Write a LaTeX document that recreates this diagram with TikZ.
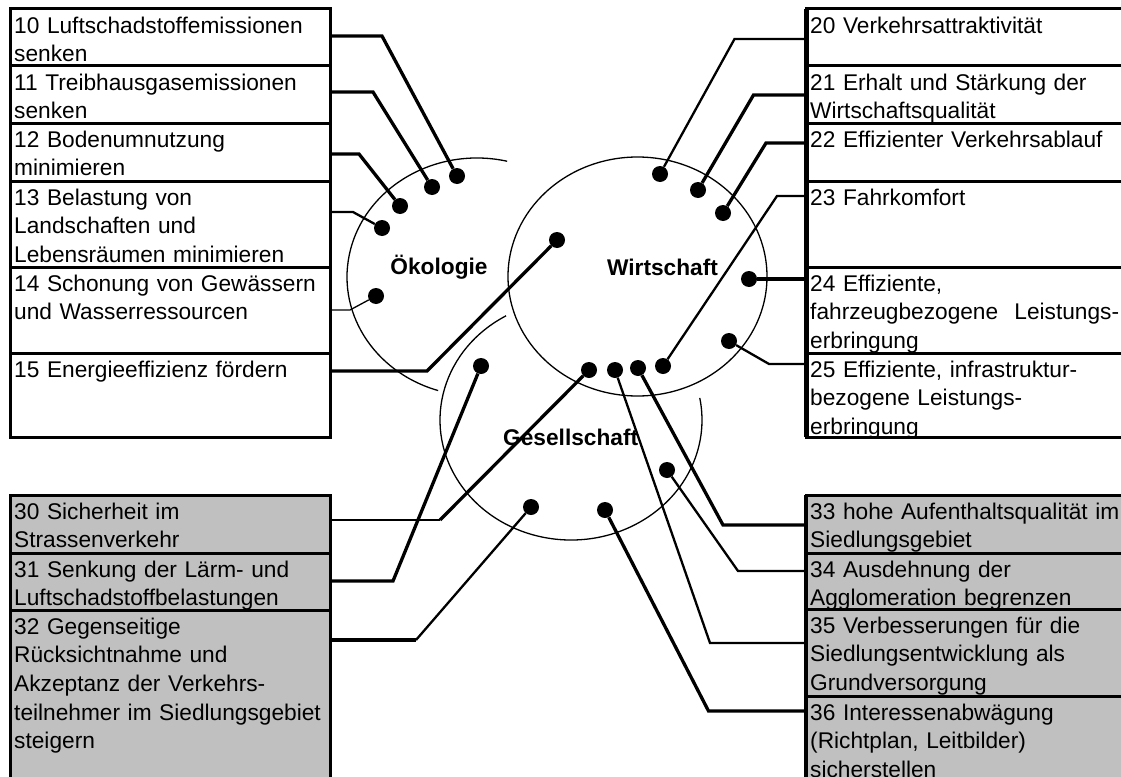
\documentclass[tikz,border=0pt]{standalone}
\usepackage{fontspec}
\setmainfont{Liberation Sans}
\usepackage{tikz}
\usetikzlibrary{positioning}
\definecolor{zielgrau}{HTML}{C0C0C0}

\begin{document}
\begin{tikzpicture}[x=1pt,y=-1pt,
zeile/.style={rectangle,inner sep=0pt,outer sep=0pt,anchor=north west,fill=white},
grauzeile/.style={zeile,fill=zielgrau},
links/.style={minimum width=320pt},
rechts/.style={minimum width=330pt},
ztext/.style={inner sep=0pt,text width=330pt,align=left,font=\fontsize{22.7}{28.6}\selectfont},
rahmen/.style={line width=3pt},
ring/.style={line width=1.3pt},
punkt/.style={circle,fill,inner sep=0pt,minimum size=16pt},
dick/.style={line width=3.3pt},
mittel/.style={line width=2.3pt},
duenn/.style={line width=1.3pt},
sektor/.style={font=\fontsize{22.7}{28}\selectfont\bfseries}]
\useasboundingbox (0,0) rectangle (1121,776);

\node[zeile,links,minimum height=57pt] (z10) at (10,9) {};
\node[ztext,below right=4pt and 4pt of z10.north west] {\strut 10 Luftschadstoffemissionen\\senken};
\node[zeile,links,minimum height=57pt] (z11) at (z10.south west) {};
\node[ztext,below right=4pt and 4pt of z11.north west] {\strut 11 Treibhausgasemissionen\\senken};
\node[zeile,links,minimum height=58pt] (z12) at (z11.south west) {};
\node[ztext,below right=4pt and 4pt of z12.north west] {\strut 12 Bodenumnutzung\\minimieren};
\node[zeile,links,minimum height=86pt] (z13) at (z12.south west) {};
\node[ztext,below right=4pt and 4pt of z13.north west] {\strut 13 Belastung von\\Landschaften und\\Lebensräumen minimieren};
\node[zeile,links,minimum height=86pt] (z14) at (z13.south west) {};
\node[ztext,below right=4pt and 4pt of z14.north west] {\strut 14 Schonung von Gewässern\\und Wasserressourcen};
\node[zeile,links,minimum height=84pt] (z15) at (z14.south west) {};
\node[ztext,below right=4pt and 4pt of z15.north west] {\strut 15 Energieeffizienz fördern};

\node[zeile,rechts,minimum height=57pt] (z20) at (806,9) {};
\node[ztext,below right=4pt and 4pt of z20.north west] {\strut 20 Verkehrsattraktivität};
\node[zeile,rechts,minimum height=57pt] (z21) at (z20.south west) {};
\node[ztext,below right=4pt and 4pt of z21.north west] {\strut 21 Erhalt und Stärkung der\\Wirtschaftsqualität};
\node[zeile,rechts,minimum height=58pt] (z22) at (z21.south west) {};
\node[ztext,below right=4pt and 4pt of z22.north west] {\strut 22 Effizienter Verkehrsablauf};
\node[zeile,rechts,minimum height=86pt] (z23) at (z22.south west) {};
\node[ztext,below right=4pt and 4pt of z23.north west] {\strut 23 Fahrkomfort};
\node[zeile,rechts,minimum height=86pt] (z24) at (z23.south west) {};
\node[ztext,below right=4pt and 4pt of z24.north west] {\strut 24 Effiziente,\\\leavevmode\hbox to 309pt{fahrzeugbezogene\hfill Leistungs-}\\erbringung};
\node[zeile,rechts,minimum height=84pt] (z25) at (z24.south west) {};
\node[ztext,below right=4pt and 4pt of z25.north west] {\strut 25 Effiziente, infrastruktur-\\bezogene Leistungs-\\erbringung};

\node[grauzeile,links,minimum height=58pt] (z30) at (10,495) {};
\node[ztext,below right=4pt and 4pt of z30.north west] {\strut 30 Sicherheit im\\Strassenverkehr};
\node[grauzeile,links,minimum height=57pt] (z31) at (z30.south west) {};
\node[ztext,below right=4pt and 4pt of z31.north west] {\strut 31 Senkung der Lärm- und\\Luftschadstoffbelastungen};
\node[grauzeile,links,minimum height=190pt] (z32) at (z31.south west) {};
\node[ztext,below right=4pt and 4pt of z32.north west] {\strut 32 Gegenseitige\\Rücksichtnahme und\\Akzeptanz der Verkehrs-\\teilnehmer im Siedlungsgebiet\\steigern};

\node[grauzeile,rechts,minimum height=58pt] (z33) at (806,495) {};
\node[ztext,below right=4pt and 4pt of z33.north west] {\strut 33 hohe Aufenthaltsqualität im\\Siedlungsgebiet};
\node[grauzeile,rechts,minimum height=56pt] (z34) at (z33.south west) {};
\node[ztext,below right=4pt and 4pt of z34.north west] {\strut 34 Ausdehnung der\\Agglomeration begrenzen};
\node[grauzeile,rechts,minimum height=87pt] (z35) at (z34.south west) {};
\node[ztext,below right=4pt and 4pt of z35.north west] {\strut 35 Verbesserungen für die\\Siedlungsentwicklung als\\Grundversorgung};
\node[grauzeile,rechts,minimum height=104pt] (z36) at (z35.south west) {};
\node[ztext,below right=4pt and 4pt of z36.north west] {\strut 36 Interessenabwägung\\(Richtplan, Leitbilder)\\sicherstellen};

\foreach \z in {z10,z11,z12,z13,z14,z15,z20,z21,z22,z23,z24,z25,z30,z31,z32,z33,z34,z35,z36}
  \draw[rahmen] (\z.north west) rectangle (\z.south east);
\draw[line width=5pt] (z20.north west) -- (z25.south west);
\draw[line width=4.5pt] (z33.north west) -- (z36.south west);

\draw[ring] (637.5,276.5) ellipse [x radius=129.5,y radius=119.5];
\draw[ring] (477,277) ++(283.4:130 and 119) arc[start angle=283.4,end angle=107.4,x radius=130,y radius=119];
\draw[ring] (571,420) ++(240.3:131 and 120) arc[start angle=240.3,end angle=-10.6,x radius=131,y radius=120];

\node[sektor] (oeko) at (439,267) {Ökologie};
\node[sektor] (wirt) at (662.5,267) {Wirtschaft};
\node[sektor] (ges) at (570.7,437) {Gesellschaft};

\node[punkt] (p10) at (457,176) {};
\node[punkt] (p11) at (432,187) {};
\node[punkt] (p12) at (400,206) {};
\node[punkt] (p13) at (382,228) {};
\node[punkt] (p14) at (376,296) {};
\node[punkt] (p15) at (557,240) {};
\node[punkt] (p20) at (660,174) {};
\node[punkt] (p21) at (698,190) {};
\node[punkt] (p22) at (723,213) {};
\node[punkt] (p23) at (663,366) {};
\node[punkt] (p24) at (749,279) {};
\node[punkt] (p25) at (729,341) {};
\node[punkt] (p30) at (589,370) {};
\node[punkt] (p31) at (481,366) {};
\node[punkt] (p32) at (531,507) {};
\node[punkt] (p33) at (638,368) {};
\node[punkt] (p34) at (667,470) {};
\node[punkt] (p35) at (615,370) {};
\node[punkt] (p36) at (605,510) {};

\coordinate (k10) at (382,36);
\coordinate (k11) at (373,92);
\coordinate (k12) at (359,154);
\coordinate (k13) at (353,212);
\coordinate (k14) at (350,310);
\coordinate (k15) at (427,371);
\coordinate (k20) at (734.5,39);
\coordinate (k21) at (753.5,95);
\coordinate (k22) at (766,143);
\coordinate (k23) at (777,196);
\coordinate (k25) at (769,364);
\coordinate (k30) at (440,520);
\coordinate (k31) at (393,581);
\coordinate (k32) at (416,640);
\coordinate (k33) at (723,525);
\coordinate (k34) at (738,571);
\coordinate (k35) at (710,643);
\coordinate (k36) at (708.5,711);

\draw[dick] (k10 -| z10.east) -- (k10) -- (p10);
\draw[dick] (k11 -| z11.east) -- (k11) -- (p11);
\draw[dick] (k12 -| z12.east) -- (k12) -- (p12);
\draw[mittel] (k13 -| z13.east) -- (k13) -- (p13);
\draw[duenn] (k14 -| z14.east) -- (k14) -- (p14);
\draw[dick] (k15 -| z15.east) -- (k15) -- (p15);
\draw[mittel] (k20 -| z20.west) -- (k20) -- (p20);
\draw[dick] (k21 -| z21.west) -- (k21) -- (p21);
\draw[dick] (k22 -| z22.west) -- (k22) -- (p22);
\draw[mittel] (k23 -| z23.west) -- (k23) -- (p23);
\draw[line width=4pt] (p24) -- (p24 -| z24.west);
\draw[mittel] (k25 -| z25.west) -- (k25) -- (p25);
\draw[duenn] (k30 -| z30.east) -- (k30);
\draw[dick] (k30) -- (p30);
\draw[dick] (k31 -| z31.east) -- (k31) -- (p31);
\draw[dick] (k32 -| z32.east) -- (k32);
\draw[mittel] (k32) -- (p32);
\draw[dick] (p33) -- (k33) -- (k33 -| z33.west);
\draw[mittel] (p34) -- (k34) -- (k34 -| z34.west);
\draw[mittel] (p35) -- (k35) -- (k35 -| z35.west);
\draw[dick] (p36) -- (k36) -- (k36 -| z36.west);
\end{tikzpicture}
\end{document}
